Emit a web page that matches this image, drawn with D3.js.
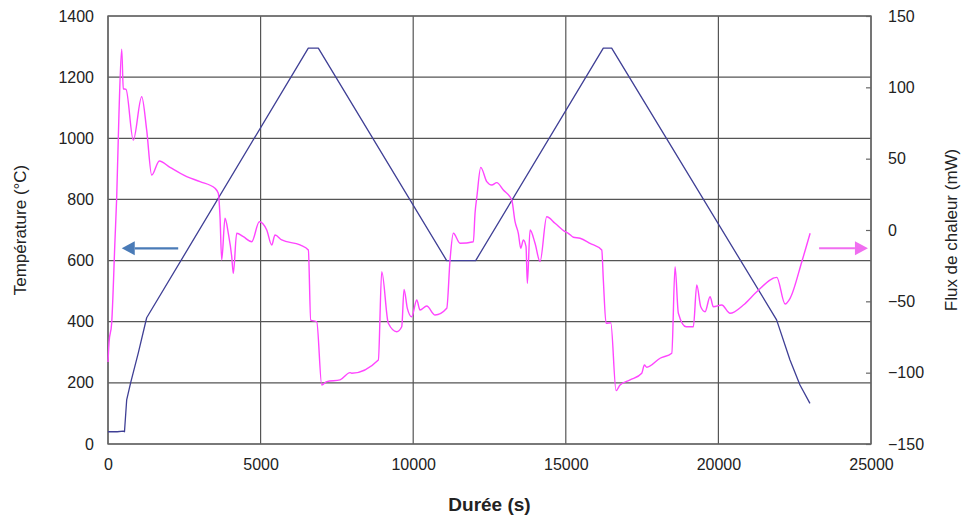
<!DOCTYPE html>
<html><head><meta charset="utf-8">
<script src="https://cdn.jsdelivr.net/npm/d3@7"></script>
<style>body{margin:0;background:#fff}text{font-family:"Liberation Sans",Arial,sans-serif;fill:#222}</style>
</head><body><svg id="c" width="965" height="522"></svg>
<script>
// Temperature (°C) vs time (s) — left axis
const tempTime = [0, 300, 500, 540, 612, 743, 993, 1267, 6563, 6891, 11097, 12047, 16229, 16503, 21907, 22346, 22673, 23000];
const tempVal  = [40, 40, 42, 40, 144, 201, 298, 413, 1295, 1295, 600, 600, 1295, 1295, 406, 275, 193, 133];
// Heat flux (mW) vs time (s) — right axis
const fluxTime = [0,33,121,229,285,360,449,501,590,829,1104,1268,1432,1681,2032,2579,3015,3506,3614,3670,3726,3834,3942,4054,4106,4217,4434,4709,4958,5201,5364,5473,5692,6292,6564,6642,6839,7003,7167,7603,7930,7986,8858,8969,9185,9460,9624,9700,9808,9952,10116,10224,10443,10716,11099,11207,11315,11535,11971,12026,12090,12213,12410,12574,12738,12954,13229,13337,13445,13524,13609,13697,13740,13829,13992,14156,14375,14647,14975,15083,15248,15467,15795,16178,16230,16319,16473,16647,16778,17106,17489,17574,17653,18089,18472,18580,18688,18940,19179,19291,19422,19563,19727,19835,20110,20382,20818,21257,21913,22185,22349,22733,23005];
const fluxVal  = [-92.5,-79,-65,-7,23,82,126.7,99,98.6,63,93.4,70,38.5,48.4,43.9,37.4,33.9,29.2,25.7,9.3,-21,8.2,-2.3,-18.7,-30.4,-2.3,-4.7,-8.2,5.8,0,-10.5,-3.5,-7,-10.5,-14,-63.1,-64.3,-108.6,-106.3,-105.1,-100,-100.4,-91.1,-29.2,-65.4,-71.3,-67.8,-41.6,-54.9,-60.8,-49.1,-56.1,-53.3,-59.6,-54.9,-21,-2.3,-9.3,-8.2,11.7,24,43.9,33.9,31.5,33.2,28,21,5.8,-2.3,-12.8,-7,-11.7,-37.4,0,-9.3,-22.2,9.3,4.7,-1.2,-2.3,-5.1,-5.8,-9.3,-14,-35,-65.4,-65,-112.6,-108.6,-105.1,-100.4,-94.6,-96.2,-89.9,-86.4,-25.7,-58.4,-67.8,-67.8,-38.6,-53.8,-57.3,-46.8,-53.8,-52.6,-58.4,-52.6,-43.3,-33.2,-51.9,-47.9,-22.2,-2.3];
const xTicks = [0, 5000, 10000, 15000, 20000, 25000];
const yLeftTicks = [0, 200, 400, 600, 800, 1000, 1200, 1400];
const yRightTicks = [-150, -100, -50, 0, 50, 100, 150];
// axis-indicator arrows: [x from, x to, value] in data units
const leftArrow = [2300, 450, 640];     // temperature axis
const rightArrow = [23300, 24900, -12.8]; // flux axis

const svg = d3.select("#c");
const L = 108, R = 871, T = 16, B = 444;
const x = d3.scaleLinear().domain([0, 25000]).range([L, R]);
const yL = d3.scaleLinear().domain([0, 1400]).range([B, T]);
const yR = d3.scaleLinear().domain([-150, 150]).range([B, T]);
const gridC = "#555";

// grid
svg.append("g").selectAll("line").data(yLeftTicks).join("line")
  .attr("x1", L).attr("x2", R).attr("y1", d => yL(d)).attr("y2", d => yL(d))
  .attr("stroke", gridC).attr("stroke-width", 1.2);
svg.append("g").selectAll("line").data(xTicks).join("line")
  .attr("x1", d => x(d)).attr("x2", d => x(d)).attr("y1", T).attr("y2", B)
  .attr("stroke", gridC).attr("stroke-width", 1.2);
svg.append("rect").attr("x", L).attr("y", T).attr("width", R - L).attr("height", B - T)
  .attr("fill", "none").attr("stroke", "#666").attr("stroke-width", 1.4);

// axes
const ax = svg.append("g").attr("transform", `translate(0,${B})`)
  .call(d3.axisBottom(x).tickValues(xTicks).tickSize(0).tickPadding(15).tickFormat(d3.format("d")));
const ayl = svg.append("g").attr("transform", `translate(${L},0)`)
  .call(d3.axisLeft(yL).tickValues(yLeftTicks).tickSize(0).tickPadding(14).tickFormat(d3.format("d")));
const ayr = svg.append("g").attr("transform", `translate(${R},0)`)
  .call(d3.axisRight(yR).tickValues(yRightTicks).tickSize(-5).tickPadding(17).tickFormat(d3.format("d")));
[ax, ayl, ayr].forEach(g => {
  g.select(".domain").remove();
  g.selectAll("text").attr("font-size", 16).attr("fill", "#222")
    .style("font-family", '"Liberation Sans",Arial,sans-serif');
  g.selectAll("line").attr("stroke", "#666").attr("stroke-width", 1.2);
});

// series
const lineT = d3.line().x((d, i) => x(tempTime[i])).y(d => yL(d));
svg.append("path").attr("d", lineT(tempVal)).attr("fill", "none")
  .attr("stroke", "#3f3f95").attr("stroke-width", 1.3).attr("stroke-linejoin", "round");
const lineF = d3.line().x((d, i) => x(fluxTime[i])).y(d => yR(d)).curve(d3.curveMonotoneX);
svg.append("path").attr("d", lineF(fluxVal)).attr("fill", "none")
  .attr("stroke", "#ff45ff").attr("stroke-width", 1.4).attr("stroke-linejoin", "round");

// arrows
function arrow(x1, x2, y, color) {
  const dir = Math.sign(x2 - x1), hl = 13, hw = 7;
  svg.append("line").attr("x1", x1).attr("x2", x2 - dir * hl).attr("y1", y).attr("y2", y)
    .attr("stroke", color).attr("stroke-width", 2.2);
  svg.append("path").attr("d", `M${x2},${y}L${x2 - dir * hl},${y - hw}L${x2 - dir * hl},${y + hw}Z`).attr("fill", color);
}
arrow(x(leftArrow[0]), x(leftArrow[1]), yL(leftArrow[2]), "#4a7bb7");
arrow(x(rightArrow[0]), x(rightArrow[1]), yR(rightArrow[2]), "#f06ef0");

// titles
svg.append("text").attr("transform", `translate(26,${(T + B) / 2}) rotate(-90)`)
  .attr("text-anchor", "middle").attr("font-size", 17).text("Température (°C)");
svg.append("text").attr("transform", `translate(957,${(T + B) / 2}) rotate(-90)`)
  .attr("text-anchor", "middle").attr("font-size", 17).text("Flux de chaleur (mW)");
svg.append("text").attr("x", (L + R) / 2).attr("y", 511).attr("text-anchor", "middle")
  .attr("font-size", 19).attr("font-weight", "bold").text("Durée (s)");
</script></body></html>
